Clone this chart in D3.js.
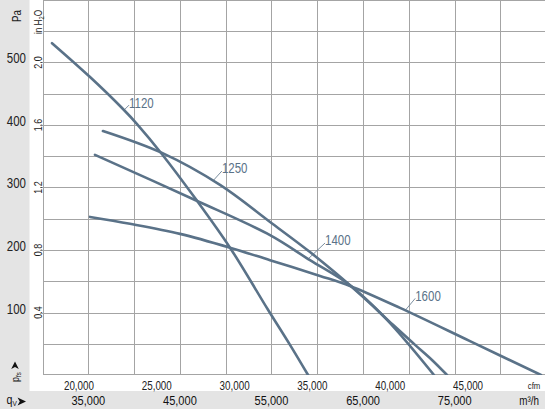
<!DOCTYPE html>
<html>
<head>
<meta charset="utf-8">
<script src="https://cdn.jsdelivr.net/npm/d3@7"></script>
<style>
  body { margin: 0; background: #fff; }
  svg { display: block; }
  text { font-family: "Liberation Sans", Arial, sans-serif; }
</style>
</head>
<body>
<div id="chart"></div>
<script>
// fan curves: q_V in m3/h, static pressure in Pa
const speeds = ["1120", "1250", "1400", "1600"];
const flow1120 = [31040, 35190, 38790, 40320, 43050, 46650, 50470, 54620, 57020, 58990];
const pres1120 = [529, 475, 424, 400, 352, 282, 203, 104, 48, 0];
const flow1250 = [36600, 43050, 49380, 54840, 59200, 63570, 67610, 72740];
const pres1250 = [389, 354, 303, 244, 196, 143, 88, 0];
const flow1400 = [35730, 46650, 54840, 59200, 63570, 68260, 70670, 72520, 74160];
const pres1400 = [351, 279, 223, 183, 143, 80, 48, 24, 0];
const flow1600 = [35190, 39550, 45010, 50470, 54840, 60300, 63570, 69030, 76670, 84420];
const pres1600 = [252, 241, 225, 203, 183, 158, 142, 107, 54, 0];

const paTicks = [100, 200, 300, 400, 500];
const inH2OTicks = [0.4, 0.8, 1.2, 1.6, 2.0];
const cfmTicks = [20000, 25000, 30000, 35000, 40000, 45000];
const m3hTicks = [35000, 45000, 55000, 65000, 75000];

const series = [
  {name: speeds[0], q: flow1120, p: pres1120},
  {name: speeds[1], q: flow1250, p: pres1250},
  {name: speeds[2], q: flow1400, p: pres1400},
  {name: speeds[3], q: flow1600, p: pres1600}
];

// label leader placement (flow where the leader touches the curve, leader offset in px)
const labelPos = {
  "1120": {q: 38900, dx: 5, dy: -5},
  "1250": {q: 48600, dx: 9, dy: -10},
  "1400": {q: 58990, dx: 17, dy: -16},
  "1600": {q: 69600, dx: 10, dy: -12}
};

const W = 545, H = 409;
const CFM = 1.69901, PA_PER_INH2O = 249.089;
const NARROW = 0.82; // the original uses a condensed face
const curveColor = "#5a7288", gridColor = "#a4a4a4";

const x = d3.scaleLinear().domain([30000, 85000]).range([42.5, 546.3]);
const yIn = d3.scaleLinear().domain([0, 2.4]).range([375, 0]);
const y = d3.scaleLinear().domain([0, 2.4 * PA_PER_INH2O]).range([375, 0]);

const svg = d3.select("#chart").append("svg")
  .attr("width", W).attr("height", H)
  .attr("viewBox", `0 0 ${W} ${H}`);

// condensed text placed at (px,py), optionally rotated
var place = function(px, py, rot){
  return `translate(${px},${py})` + (rot ? ` rotate(${rot})` : "") + ` scale(${NARROW},1)`;
}

// grey bands
svg.append("rect").attr("x", 0).attr("y", 0).attr("width", 29.5).attr("height", H).attr("fill", "#e4e4e4");
svg.append("rect").attr("x", 0).attr("y", 391).attr("width", W).attr("height", H - 391).attr("fill", "#e4e4e4");

// grid
const grid = svg.append("g").attr("stroke", gridColor).attr("stroke-width", 1).attr("shape-rendering", "crispEdges");
grid.selectAll("line.v")
  .data(d3.range(35000, 85000, 5000))
  .enter().append("line")
  .attr("x1", d => Math.round(x(d)) + 0.5).attr("x2", d => Math.round(x(d)) + 0.5)
  .attr("y1", 0).attr("y2", 375);
grid.selectAll("line.h")
  .data(d3.range(1, 13).map(i => i * 0.2))
  .enter().append("line")
  .attr("x1", d => inH2OTicks.some(t => Math.abs(t - d) < 1e-6) ? 40 : 43)
  .attr("x2", W)
  .attr("y1", d => Math.round(yIn(d)) + 0.5).attr("y2", d => Math.round(yIn(d)) + 0.5);
grid.append("line").attr("x1", 43.5).attr("x2", 43.5).attr("y1", 0).attr("y2", 375);
grid.append("line").attr("x1", 43).attr("x2", W).attr("y1", 374.5).attr("y2", 374.5);

// Pa axis
svg.selectAll("text.pa")
  .data(paTicks)
  .enter().append("text")
  .attr("transform", d => place(26, y(d) + 1.5))
  .attr("text-anchor", "end")
  .attr("font-size", 14).attr("fill", "#222")
  .text(d => d);
svg.append("text")
  .attr("transform", place(20.5, 16, -90))
  .attr("text-anchor", "middle")
  .attr("font-size", 12).attr("fill", "#222")
  .text("Pa");

// in H2O axis
svg.selectAll("text.in")
  .data(inH2OTicks)
  .enter().append("text")
  .attr("transform", d => place(41.5, yIn(d), -90))
  .attr("text-anchor", "middle")
  .attr("font-size", 11).attr("fill", "#222")
  .text(d => d.toFixed(1));
const inLab = svg.append("text")
  .attr("transform", place(41.5, 22, -90))
  .attr("text-anchor", "middle")
  .attr("font-size", 10).attr("fill", "#222");
inLab.append("tspan").text("in H");
inLab.append("tspan").attr("font-size", 7).attr("dy", 2).text("2");
inLab.append("tspan").attr("dy", -2).text("O");

// cfm axis
svg.selectAll("text.cfm")
  .data(cfmTicks)
  .enter().append("text")
  .attr("transform", d => place(x(d * CFM), 389.5))
  .attr("text-anchor", "middle")
  .attr("font-size", 12).attr("fill", "#222")
  .text(d => d3.format(",")(d));
svg.append("text")
  .attr("transform", place(534, 389))
  .attr("text-anchor", "middle")
  .attr("font-size", 9.5).attr("fill", "#222")
  .text("cfm");

// m3/h axis
svg.selectAll("text.m3h")
  .data(m3hTicks)
  .enter().append("text")
  .attr("transform", d => place(x(d), 405))
  .attr("text-anchor", "middle")
  .attr("font-size", 13.5).attr("fill", "#111")
  .text(d => d3.format(",")(d));
svg.append("text")
  .attr("transform", place(539, 405))
  .attr("text-anchor", "end")
  .attr("font-size", 12).attr("fill", "#111")
  .text("m³/h");

// p_fs and q_V markers
const pfs = svg.append("text")
  .attr("transform", place(18.5, 382, -90))
  .attr("font-size", 11).attr("fill", "#111");
pfs.append("tspan").text("p");
pfs.append("tspan").attr("font-size", 7.5).attr("dy", 2).text("fs");
svg.append("path")
  .attr("d", "M15,361.5 L18.8,369 L15,367 L11.2,369 Z")
  .attr("fill", "#111");
const qv = svg.append("text")
  .attr("transform", place(6.5, 404))
  .attr("font-size", 13).attr("fill", "#111");
qv.append("tspan").text("q");
qv.append("tspan").attr("font-size", 8).attr("dy", 2).text("V");
svg.append("path")
  .attr("d", "M26,401.5 L17.5,397.5 L19.8,401.5 L17.5,405.5 Z")
  .attr("fill", "#111");

// curves
svg.append("clipPath").attr("id", "plotClip")
  .append("rect").attr("x", 43).attr("y", 0).attr("width", W - 43).attr("height", 375);

const line = d3.line()
  .x(d => x(d[0]))
  .y(d => y(d[1]))
  .curve(d3.curveCatmullRom.alpha(0.5));

svg.append("g").attr("clip-path", "url(#plotClip)")
  .selectAll("path")
  .data(series)
  .enter().append("path")
  .attr("d", s => line(s.q.map((q, i) => [q, s.p[i]])))
  .attr("fill", "none")
  .attr("stroke", curveColor)
  .attr("stroke-width", 2.6)
  .attr("stroke-linecap", "round");

// curve labels with leader lines
const labels = svg.append("g");
series.forEach(s => {
  const lp = labelPos[s.name];
  const pAt = d3.scaleLinear().domain(s.q).range(s.p)(lp.q);
  const x0 = x(lp.q), y0 = y(pAt);
  labels.append("line")
    .attr("x1", x0).attr("y1", y0)
    .attr("x2", x0 + lp.dx).attr("y2", y0 + lp.dy)
    .attr("stroke", curveColor).attr("stroke-width", 0.8);
  labels.append("text")
    .attr("transform", place(x0 + lp.dx, y0 + lp.dy + 2.5))
    .attr("font-size", 14).attr("fill", curveColor)
    .text(s.name);
});
</script>
</body>
</html>
